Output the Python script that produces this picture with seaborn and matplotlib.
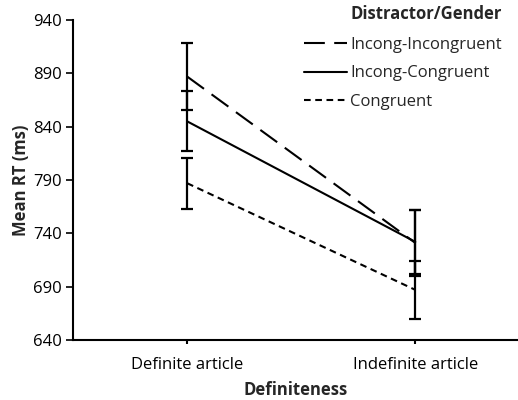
import pandas as pd
import seaborn as sns
import matplotlib.pyplot as plt

conditions = ['Definite article', 'Indefinite article']
groups = ['Incong-Incongruent', 'Incong-Congruent', 'Congruent']
means_ii = [887, 731]
means_ic = [845, 732]
means_c = [787, 687]
err_ii = [31, 31]
err_ic = [28, 30]
err_c = [24, 27]

sns.set_style('ticks')
plt.rcParams['font.family'] = ['Open Sans', 'DejaVu Sans']

df = pd.DataFrame({
    'Definiteness': conditions * 3,
    'Group': [g for g in groups for _ in conditions],
    'RT': means_ii + means_ic + means_c,
    'err': err_ii + err_ic + err_c,
})

fig = plt.figure(figsize=(5.18, 4.0), dpi=100)
ax = fig.add_axes([0.141, 0.15, 0.859, 0.80])

dashes = {'Incong-Incongruent': (10, 4.5), 'Incong-Congruent': '', 'Congruent': (3.2, 2.2)}
sns.lineplot(data=df, x='Definiteness', y='RT', hue='Group', style='Group',
             palette=['black'] * 3, dashes=dashes, linewidth=1.5, ax=ax)

for g in groups:
    sub = df[df['Group'] == g]
    ax.errorbar(sub['Definiteness'], sub['RT'], yerr=sub['err'], fmt='none',
                ecolor='black', elinewidth=1.6, capsize=4, capthick=1.6, zorder=3)

ax.set_xlim(-0.5, 1.45)
ax.set_ylim(640, 940)
ax.set_yticks(range(640, 941, 50))
ax.tick_params(axis='both', labelsize=12, color='black', labelcolor='black')
ax.tick_params(axis='x', length=3, width=1.5, pad=9)
ax.tick_params(axis='y', length=5, width=1.2, pad=3)
ax.set_xlabel('Definiteness', fontsize=12, fontweight='bold', labelpad=6)
ax.set_ylabel('Mean RT (ms)', fontsize=12, fontweight='bold', labelpad=2)
for s in ['left', 'bottom']:
    ax.spines[s].set_linewidth(1.5)
    ax.spines[s].set_color('black')
sns.despine(ax=ax)

leg = ax.legend(loc='upper left', bbox_to_anchor=(0.558, 0.945),
                bbox_transform=fig.transFigure, frameon=False, fontsize=12,
                handlelength=2.6, handletextpad=0.15, labelspacing=0.75)
fig.text(0.676, 0.965, 'Distractor/Gender', fontsize=12, fontweight='bold',
         ha='left', va='center')

fig.savefig('out.png', dpi=100)
